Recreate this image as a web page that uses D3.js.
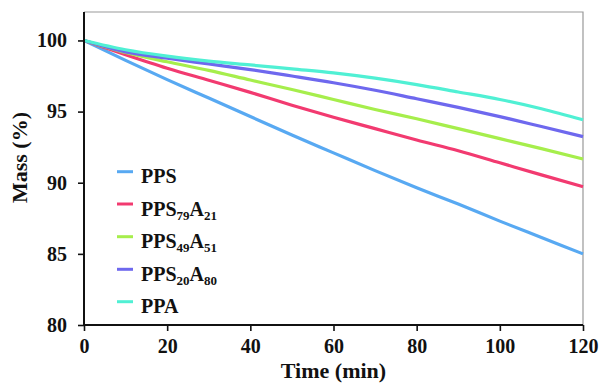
<!DOCTYPE html>
<html><head><meta charset="utf-8">
<script src="https://cdn.jsdelivr.net/npm/d3@7"></script>
<style>body{margin:0;background:#fff}svg{display:block}text{font-family:"Liberation Serif","Times New Roman",serif;font-weight:bold;fill:#111}</style>
</head><body><svg id="c" width="599" height="387"></svg>
<script>
const times = [0,10,20,30,40,50,60,70,80,90,100,110,120];
const seriesNames = ["PPS","PPS79A21","PPS49A51","PPS20A80","PPA"];
const ppsValues      = [100,98.6,97.25,95.95,94.65,93.35,92.1,90.85,89.65,88.5,87.3,86.15,85.0];
const pps79a21Values = [100,99.0,98.05,97.2,96.35,95.45,94.6,93.8,93.0,92.25,91.4,90.55,89.72];
const pps49a51Values = [100,99.15,98.5,97.9,97.22,96.55,95.85,95.15,94.5,93.8,93.1,92.4,91.67];
const pps20a80Values = [100,99.2,98.75,98.35,97.95,97.5,97.03,96.5,95.9,95.3,94.65,93.95,93.24];
const ppaValues      = [100,99.35,98.9,98.55,98.28,98.0,97.72,97.35,96.9,96.38,95.85,95.2,94.42];
const colors = ["#58a9f2","#f23a70","#a6ee4c","#6e68ee","#50f0d4"];
const xTicks = [0,20,40,60,80,100,120];
const yTicks = [80,85,90,95,100];
const legendLabels = [["PPS"],["PPS","79","A","21"],["PPS","49","A","51"],["PPS","20","A","80"],["PPA"]];

const allValues = [ppsValues,pps79a21Values,pps49a51Values,pps20a80Values,ppaValues];
const svg = d3.select("#c");
const L=84,R=583,T=12,B=325;
const x = d3.scaleLinear().domain([0,120]).range([L,R]);
const y = d3.scaleLinear().domain([80,102]).range([B,T]);

// frame top/right
svg.append("path").attr("d",`M${L},${T}H${R}V${B}`).attr("fill","none").attr("stroke","#999").attr("stroke-width",1.2);

// lines
const line = d3.line().x(d=>x(d[0])).y(d=>y(d[1])).curve(d3.curveMonotoneX);
allValues.forEach((vals,i)=>{
  svg.append("path").datum(times.map((t,j)=>[t,vals[j]]))
    .attr("d",line).attr("fill","none").attr("stroke",colors[i]).attr("stroke-width",3.2).attr("stroke-linecap","butt");
});

// axes
const xAxis = svg.append("g").attr("transform",`translate(0,${B})`)
  .call(d3.axisBottom(x).tickValues(xTicks).tickSize(6).tickPadding(8));
const yAxis = svg.append("g").attr("transform",`translate(${L},0)`)
  .call(d3.axisLeft(y).tickValues(yTicks).tickSize(6).tickPadding(11));
[xAxis,yAxis].forEach(g=>{
  g.select(".domain").remove();
  g.selectAll(".tick line").attr("stroke","#111").attr("stroke-width",1.6);
  g.selectAll(".tick text").style("font-size","20px").style("font-family",'"Liberation Serif",serif').style("font-weight","bold").attr("fill","#111");
});
svg.append("line").attr("x1",L).attr("x2",L).attr("y1",T).attr("y2",B+1).attr("stroke","#111").attr("stroke-width",2);
svg.append("line").attr("x1",L-1).attr("x2",R).attr("y1",B).attr("y2",B).attr("stroke","#111").attr("stroke-width",2);

// titles
svg.append("text").attr("x",(L+R)/2).attr("y",378).attr("text-anchor","middle").style("font-size","22px").text("Time (min)");
svg.append("text").attr("transform","translate(27,157.5) rotate(-90)").attr("text-anchor","middle").style("font-size","22px").text("Mass (%)");

// legend
const legY = [171.7,204,236.7,269.3,301.7];
legendLabels.forEach((parts,i)=>{
  svg.append("line").attr("x1",117).attr("x2",133).attr("y1",legY[i]).attr("y2",legY[i]).attr("stroke",colors[i]).attr("stroke-width",3);
  const t = svg.append("text").attr("x",141).attr("y",legY[i]+11.5).style("font-size","20px");
  parts.forEach((p,k)=>{
    if(k%2===0){ t.append("tspan").attr("dy",k===0?0:-4).style("font-size","20px").text(p); }
    else { t.append("tspan").attr("dy",4).style("font-size","13px").text(p); }
  });
});
</script></body></html>
